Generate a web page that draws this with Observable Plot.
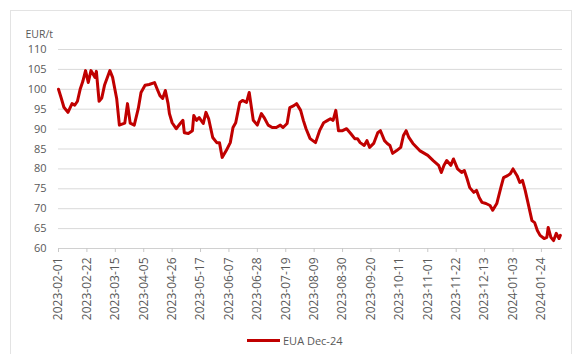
<!DOCTYPE html>
<html>
<head>
<meta charset="utf-8">
<script src="https://cdn.jsdelivr.net/npm/d3@7"></script>
<script src="https://cdn.jsdelivr.net/npm/@observablehq/plot@0.6"></script>
<style>
  html, body { margin: 0; padding: 0; background: #fff; }
  #wrap { position: relative; width: 574px; height: 354px; overflow: hidden; font-family: "Open Sans", sans-serif; }
  #frame { position: absolute; left: 10px; top: 10px; width: 562px; height: 360px; border: 1px solid #e3e3e3; box-sizing: border-box; }
  #chart { position: absolute; left: 0; top: 0; }
  #legend { position: absolute; left: 247px; top: 330px; height: 20px; display: flex; align-items: center; font-size: 11px; color: #595959; }
  #legend .sw { display: inline-block; width: 33px; height: 3px; background: #c00000; margin-right: 3px; }
</style>
</head>
<body>
<div id="wrap">
  <div id="frame"></div>
  <div id="chart"></div>
  <div id="legend"><span class="sw"></span><span>EUA Dec-24</span></div>
</div>
<script>
const seriesName = "EUA Dec-24";
const unitLabel = "EUR/t";
const dates = [
  "2023-02-01","2023-02-03","2023-02-05","2023-02-08","2023-02-11","2023-02-13","2023-02-15","2023-02-17","2023-02-19","2023-02-21",
  "2023-02-23","2023-02-25","2023-02-28","2023-03-01","2023-03-03","2023-03-05","2023-03-07","2023-03-11","2023-03-13","2023-03-16",
  "2023-03-18","2023-03-22","2023-03-24","2023-03-26","2023-03-29","2023-04-01","2023-04-03","2023-04-06","2023-04-09","2023-04-13",
  "2023-04-15","2023-04-17","2023-04-19","2023-04-21","2023-04-23","2023-04-24","2023-04-26","2023-04-29","2023-05-02","2023-05-04",
  "2023-05-05","2023-05-08","2023-05-11","2023-05-12","2023-05-14","2023-05-16","2023-05-19","2023-05-21","2023-05-23","2023-05-26",
  "2023-05-29","2023-05-31","2023-06-02","2023-06-05","2023-06-08","2023-06-10","2023-06-12","2023-06-15","2023-06-17","2023-06-20",
  "2023-06-22","2023-06-25","2023-06-28","2023-07-01","2023-07-03","2023-07-06","2023-07-09","2023-07-12","2023-07-15","2023-07-17",
  "2023-07-20","2023-07-22","2023-07-25","2023-07-27","2023-07-30","2023-08-01","2023-08-03","2023-08-06","2023-08-08","2023-08-10",
  "2023-08-13","2023-08-16","2023-08-19","2023-08-21","2023-08-23","2023-08-25","2023-08-27","2023-08-30","2023-09-02","2023-09-05",
  "2023-09-08","2023-09-10","2023-09-12","2023-09-15","2023-09-17","2023-09-19","2023-09-22","2023-09-25","2023-09-27","2023-09-30",
  "2023-10-02","2023-10-04","2023-10-06","2023-10-09","2023-10-12","2023-10-14","2023-10-16","2023-10-18","2023-10-21","2023-10-26",
  "2023-11-01","2023-11-05","2023-11-09","2023-11-11","2023-11-13","2023-11-15","2023-11-18","2023-11-20","2023-11-23","2023-11-26",
  "2023-11-28","2023-11-30","2023-12-02","2023-12-05","2023-12-07","2023-12-09","2023-12-11","2023-12-14","2023-12-17","2023-12-19",
  "2023-12-22","2023-12-25","2023-12-27","2023-12-30","2024-01-01","2024-01-03","2024-01-06","2024-01-08","2024-01-10","2024-01-12",
  "2024-01-14","2024-01-17","2024-01-19","2024-01-21","2024-01-23","2024-01-26","2024-01-28","2024-01-29","2024-01-31","2024-02-02",
  "2024-02-04","2024-02-06","2024-02-07"
];
const prices = [
  100, 97.8, 95.5, 94.2, 96.4, 96, 97, 100, 102, 104.7,
  101.7, 104.7, 103, 104.5, 97, 97.8, 101, 104.7, 103, 97.7,
  91, 91.5, 96.4, 91.5, 91, 95.2, 99.2, 101, 101.2, 101.7,
  100, 98.4, 97.7, 99.7, 96.4, 93.9, 91.6, 90.1, 91.4, 92.2,
  89.1, 88.9, 89.6, 93.4, 92.2, 92.9, 91.4, 94.2, 92.6, 87.9,
  86.6, 86.6, 82.9, 84.6, 86.6, 90.4, 91.6, 96.7, 97.2, 96.7,
  99.2, 92.2, 91, 93.9, 92.9, 91, 90.4, 90.4, 91, 90.4,
  91.4, 95.4, 95.9, 96.4, 94.7, 92.2, 90.1, 87.6, 87.1, 86.6,
  89.6, 91.6, 92.2, 92.6, 92.2, 94.7, 89.6, 89.6, 90.1, 88.9,
  87.6, 87.6, 86.6, 85.9, 87.1, 85.4, 86.4, 89.1, 89.6, 87.1,
  86.4, 85.9, 83.9, 84.6, 85.4, 88.4, 89.6, 87.9, 86.4, 84.6,
  83.4, 82.1, 80.9, 79.1, 80.9, 82.1, 80.9, 82.5, 80, 79.1,
  79.6, 77.6, 75.3, 74.1, 74.6, 72.8, 71.6, 71.3, 70.8, 69.6,
  71.3, 75.3, 77.8, 78.3, 78.8, 80, 78.3, 76.6, 77.1, 74.6,
  71.6, 67, 66.5, 64.5, 63.3, 62.5, 62.8, 65.3, 62.8, 62,
  63.8, 62.5, 63.3
];
const yTicks = [60, 65, 70, 75, 80, 85, 90, 95, 100, 105, 110];
const xTickLabels = [
  "2023-02-01","2023-02-22","2023-03-15","2023-04-05","2023-04-26","2023-05-17","2023-06-07","2023-06-28","2023-07-19",
  "2023-08-09","2023-08-30","2023-09-20","2023-10-11","2023-11-01","2023-11-22","2023-12-13","2024-01-03","2024-01-24"
];

const data = dates.map((d, i) => ({date: new Date(d + "T00:00Z"), price: prices[i]}));
const xTicks = xTickLabels.map(d => new Date(d + "T00:00Z"));

const chart = Plot.plot({
  width: 574,
  height: 330,
  marginLeft: 58,
  marginRight: 12,
  marginTop: 49,
  marginBottom: 82,
  style: {fontFamily: "'Open Sans', sans-serif", fontSize: "11px", color: "#595959", background: "transparent", overflow: "visible"},
  x: {type: "utc", domain: [new Date("2023-02-01T00:00Z"), new Date("2024-02-08T14:00Z")]},
  y: {domain: [60, 110]},
  marks: [
    Plot.gridY(yTicks, {stroke: "#d9d9d9", strokeOpacity: 1}),
    Plot.ruleY([60], {stroke: "#d0d0d0"}),
    Plot.axisY(yTicks, {tickSize: 0, tickPadding: 12, label: null, fill: "#595959"}),
    Plot.axisX(xTicks, {tickSize: 4, tickPadding: 5, tickRotate: -90, tickFormat: d3.utcFormat("%Y-%m-%d"), label: null, stroke: "#c8c8c8", fill: "#595959", fontSize: 12}),
    Plot.line(data, {x: "date", y: "price", stroke: "#c00000", strokeWidth: 3, strokeLinejoin: "round"}),
    Plot.text([unitLabel], {frameAnchor: "top-left", dx: -33, dy: -19, textAnchor: "start", fill: "#595959", fontSize: 10.5})
  ]
});
document.getElementById("chart").appendChild(chart);
document.querySelector("#legend span:last-child").textContent = seriesName;
</script>
</body>
</html>
